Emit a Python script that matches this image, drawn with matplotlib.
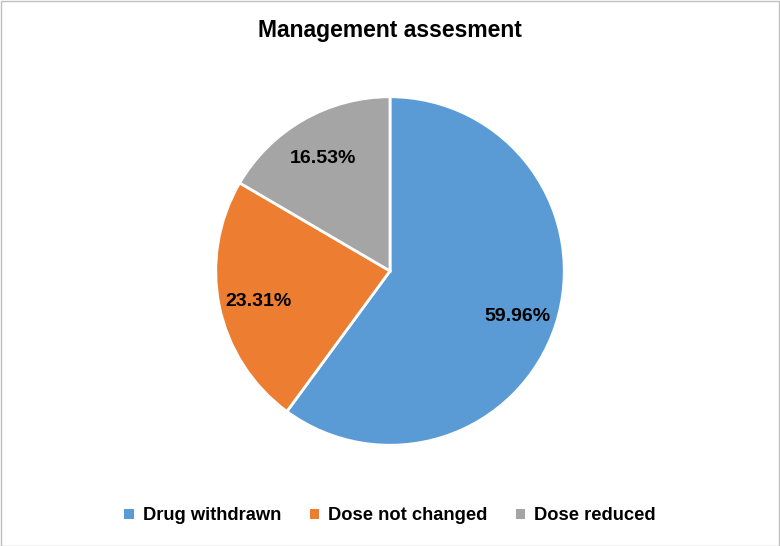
import matplotlib
matplotlib.use("Agg")
import matplotlib.pyplot as plt
from matplotlib.patches import Rectangle
import numpy as np

plt.rcParams['font.family'] = ['Liberation Sans', 'DejaVu Sans']

categories = ["Drug withdrawn", "Dose not changed", "Dose reduced"]
values = [59.96, 23.31, 16.53]
colors = ["#5B9BD5", "#ED7D31", "#A5A5A5"]
title = "Management assesment"

W, H = 780, 546
fig = plt.figure(figsize=(W / 100, H / 100), dpi=100)
fig.patches.append(Rectangle((0.5 / W, 0.5 / H), 1 - 1.5 / W, 1 - 1.5 / H,
                             transform=fig.transFigure, fill=False,
                             edgecolor="#BFBFBF", linewidth=1))

cx, cy, r = 390, 271, 176
ax = fig.add_axes([(cx - r) / W, (H - cy - r) / H, 2 * r / W, 2 * r / H])
wedges, texts = ax.pie(
    values, colors=colors, startangle=90, counterclock=False,
    wedgeprops=dict(edgecolor="white", linewidth=2))
ax.set_xlim(-1.01, 1.01)
ax.set_ylim(-1.01, 1.01)
ax.set_aspect("equal")

for v, w in zip(values, wedges):
    mid = np.deg2rad((w.theta1 + w.theta2) / 2)
    ax.text(0.77 * np.cos(mid), 0.77 * np.sin(mid) - 0.02, f"{v:.2f}%",
            ha="center", va="center", fontsize=14, fontweight="bold")

fig.text(0.5, 1 - 31 / H, title, ha="center", va="center",
         fontsize=16.5, fontweight="bold")

leg = fig.legend(wedges, categories, loc="center", bbox_to_anchor=(0.5, 1 - 516 / H),
                 ncol=3, frameon=False, handlelength=0.5, handleheight=0.5,
                 handletextpad=0.5, columnspacing=1.55,
                 prop=dict(size=13.2, weight="bold"))
for h in leg.legend_handles:
    h.set_edgecolor("none")

fig.savefig("out.png", dpi=100)
